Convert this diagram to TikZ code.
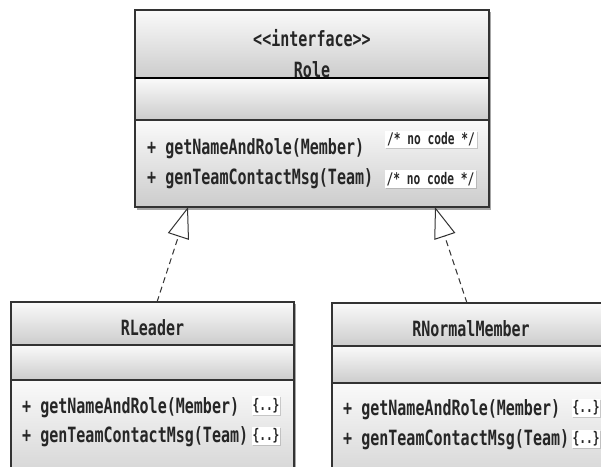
\documentclass[tikz,border=0pt]{standalone}
\usepackage{fontspec}
\setmonofont{DejaVu Sans Mono}[FakeStretch=0.715]
\newfontfamily\stubfont{DejaVu Sans Mono}[FakeStretch=0.7]
\usetikzlibrary{arrows.meta,calc,shadows}

\begin{document}
\begin{tikzpicture}[x=1pt,y=-1pt,
  font=\ttfamily\bfseries\fontsize{21}{23}\selectfont,
  comp/.style={draw=black!80, line width=1.2pt, top color=black!2, bottom color=black!20,
    anchor=north west, inner sep=0pt, outer sep=0pt},
  lbl/.style={inner sep=0pt, text=black!85},
  stub/.style={fill=white, inner xsep=2pt, inner ysep=2pt, text=black!85,
    font=\stubfont\bfseries\fontsize{16}{17}\selectfont,
    drop shadow={shadow xshift=1pt, shadow yshift=-1pt, opacity=0.35}},
  realize/.style={draw=black!80, line width=1pt, dash pattern=on 6pt off 4pt,
    -{Triangle[open, length=31pt, width=22pt, line width=1pt]}},
  boxshadow/.style={fill=black, opacity=0.35}
]
\useasboundingbox (0,0) rectangle (601,466);
\clip (0,0) rectangle (601,466);
\fill[white] (0,0) rectangle (601,466);

% --- shadows behind the class boxes ---
\fill[boxshadow] (137,12) rectangle (491,209.5);
\fill[boxshadow] (13,304) rectangle (296,520);
\fill[boxshadow] (334,305) rectangle (620,520);

% --- interface Role ---
\node[comp, minimum width=354pt, minimum height=68pt] (roleHead) at (135,10) {};
\node[comp, minimum width=354pt, minimum height=42pt] (roleAttr) at (135,78) {};
\node[comp, minimum width=354pt, minimum height=87pt] (roleOps) at (135,120) {};
\draw[line width=2.4pt, black] (roleHead.south west) -- (roleHead.south east);

\node[lbl] (roleStereo) at (312,38) {<<interface>>};
\node[lbl] (roleName) at (312,69.5) {Role};
\node[lbl, anchor=west] (roleOpA) at (147,149) {+ getNameAndRole(Member)};
\node[lbl, anchor=west] (roleOpB) at (147,179) {+ genTeamContactMsg(Team)};
\node[stub] (roleStubA) at (431,139.5) {/* no code */};
\node[stub] (roleStubB) at (430.5,179) {/* no code */};

% --- class RLeader ---
\node[comp, minimum width=283pt, minimum height=43pt] (rlHead) at (11,302) {};
\node[comp, minimum width=283pt, minimum height=35pt] (rlAttr) at (11,345) {};
\node[comp, minimum width=283pt, minimum height=120pt] (rlOps) at (11,380) {};

\node[lbl] (rlName) at (152.5,328) {RLeader};
\node[lbl, anchor=west] (rlOpA) at (22,408) {+ getNameAndRole(Member)};
\node[lbl, anchor=west] (rlOpB) at (22,437) {+ genTeamContactMsg(Team)};
\node[stub, inner xsep=0.5pt] (rlStubA) at (266,405.5) {\{..\}};
\node[stub, inner xsep=0.5pt] (rlStubB) at (266,436) {\{..\}};

% --- class RNormalMember ---
\node[comp, minimum width=283pt, minimum height=43pt] (rnHead) at (332,303) {};
\node[comp, minimum width=283pt, minimum height=37pt] (rnAttr) at (332,346) {};
\node[comp, minimum width=283pt, minimum height=120pt] (rnOps) at (332,383) {};

\node[lbl] (rnName) at (471,329) {RNormalMember};
\node[lbl, anchor=west] (rnOpA) at (343,410) {+ getNameAndRole(Member)};
\node[lbl, anchor=west] (rnOpB) at (343,440) {+ genTeamContactMsg(Team)};
\node[stub, inner xsep=0.5pt] (rnStubA) at (586,408) {\{..\}};
\node[stub, inner xsep=0.5pt] (rnStubB) at (586,439) {\{..\}};

% --- realizations ---
\coordinate (rlFoot) at ($(rlHead.north west)+(146,0)$);
\coordinate (rlTip)  at ($(roleOps.south west)+(53,0)$);
\coordinate (rnFoot) at ($(rnHead.north west)+(135,0)$);
\coordinate (rnTip)  at ($(roleOps.south west)+(300,0)$);
\draw[realize] (rlFoot) -- (rlTip);
\draw[realize] (rnFoot) -- (rnTip);
\end{tikzpicture}
\end{document}
